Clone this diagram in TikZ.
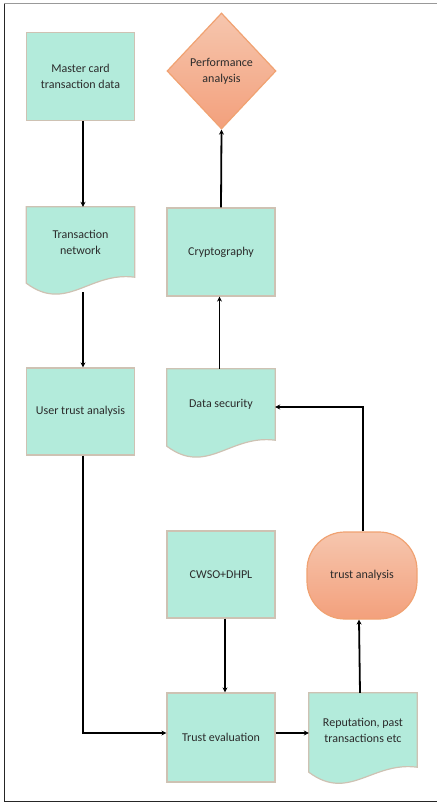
\documentclass[tikz,border=0pt]{standalone}
\usepackage{fontspec}
\setmainfont{Carlito}
\usetikzlibrary{shapes.geometric,arrows.meta,calc,backgrounds}
\definecolor{mint}{HTML}{B3EBDB}
\definecolor{mintline}{HTML}{CEC2B3}
\definecolor{orlight}{HTML}{F6C6AE}
\definecolor{ordark}{HTML}{F3A07C}
\definecolor{orline}{HTML}{F0A272}
\definecolor{txt}{HTML}{2B2B2B}
\tikzset{
  box/.style={draw=mintline, line width=1.2pt, fill=mint, minimum width=108, minimum height=88,
    inner sep=2pt, align=center, text=txt, font=\fontsize{12}{16}\selectfont},
  docbox/.style={minimum width=108, inner sep=2pt, align=center, text=txt,
    font=\fontsize{12}{16}\selectfont},
  docdraw/.style={draw=mintline, line width=1.2pt, fill=mint},
  orbox/.style={draw=orline, line width=1.2pt, top color=orlight, bottom color=ordark,
    align=center, text=txt, font=\fontsize{12}{16}\selectfont},
  arr/.style={line width=1.8pt, -{Stealth[length=5pt,width=5pt]}},
}
\newcommand\mydocshape[2]{%
  \draw[docdraw] (#1.north west) -- (#1.north east) -- (#1.south east)
    .. controls +(-45,-6) and +(40,30) .. ($(#1.south west)+(0,#2)$) -- cycle;}
\begin{document}
\begin{tikzpicture}[x=1pt,y=-1pt]
\useasboundingbox (0,0) rectangle (437,803);
% frame
\draw[gray!80, line width=1.2pt] (4,3.5) -- (437,3.5);
\draw[black!85, line width=1pt] (4,3.5) -- (4,801) -- (437,801);

% nodes
\node[box] (mc) at (80.5,76.5) {Master card\\transaction data};
\node[docbox, minimum height=70] (tn) at (80.5,242) {Transaction\\network};
\node[box, minimum height=87] (ut) at (80.5,411.5) {User trust analysis};
\node[orbox, diamond, minimum width=109, minimum height=116, inner sep=0pt] (pa) at (221.5,71) {Performance\\analysis};
\node[box] (cr) at (221,252) {Cryptography};
\node[docbox, minimum height=71] (ds) at (221,404.5) {Data security};
\node[box, minimum height=87] (cw) at (221,574.5) {CWSO+DHPL};
\node[orbox, rounded corners=38pt, minimum width=110, minimum height=87] (ta) at (362,575.5) {trust analysis};
\node[box, minimum height=89] (te) at (221,737.5) {Trust evaluation};
\node[docbox, minimum height=74] (rp) at (363,730) {Reputation, past\\transactions etc};

\begin{scope}[on background layer]
  \mydocshape{tn}{6}
  \mydocshape{ds}{6}
  \mydocshape{rp}{5}
\end{scope}

\coordinate (tnb) at ($(tn.south)+(2.5,15)$);
\coordinate (teR) at ($(te.east)+(0,-4.5)$);
\coordinate (teL) at ($(te.west)+(0,-4.5)$);
\coordinate (utB) at ($(ut.south)+(2.5,0)$);
\coordinate (dsR) at ($(ds.east)+(0,2.5)$);
\coordinate (taT) at ($(ta.north)+(1,0)$);

% connectors
\draw[arr] ($(mc.south)+(2.5,0)$) -- ($(tn.north)+(2.5,0)$);
\draw[arr] (tnb) -- ($(ut.north)+(2.5,0)$);
\draw[arr] (utB) |- (teL);
\draw[arr] ($(cw.south)+(4,0)$) -- ($(te.north)+(4,0)$);
\draw[arr] (teR) -- (teR -| rp.west);
\draw[arr] ($(rp.north)+(-3,0)$) -- ($(ta.south)+(-3,0)$);
\draw[arr] (taT) |- (dsR);
\draw[arr] ($(ds.north)+(-1.5,0)$) -- ($(cr.south)+(-1.5,0)$);
\draw[arr] (cr.north) -- (pa.south);
\end{tikzpicture}
\end{document}
